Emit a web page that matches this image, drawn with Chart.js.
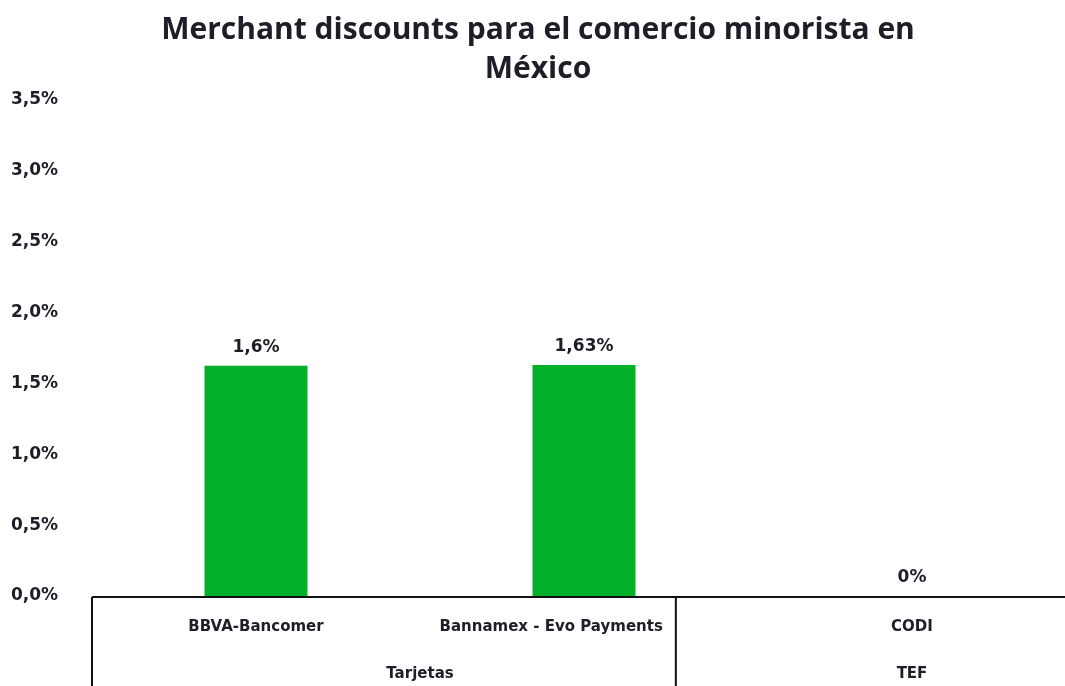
<!DOCTYPE html>
<html>
<head>
<meta charset="utf-8">
<script src="https://cdn.jsdelivr.net/npm/chart.js@4/dist/chart.umd.min.js"></script>
<style>
  html, body { margin: 0; padding: 0; background: #fff; }
  #wrap { width: 1065px; height: 686px; }
</style>
</head>
<body>
<div id="wrap"><canvas id="chart"></canvas></div>
<script>
const categories = ["BBVA-Bancomer", "Bannamex - Evo Payments", "CODI"];
const groups = ["Tarjetas", "Tarjetas", "TEF"];
const values = [1.625, 1.63, 0];
const valueLabels = ["1,6%", "1,63%", "0%"];
const yTicks = [0, 0.5, 1, 1.5, 2, 2.5, 3, 3.5];

const TITLE_FONT = "'Open Sans', Lato, sans-serif";
const FONT = "'DejaVu Sans', 'Open Sans', sans-serif";
const TEXT = "#1e1e28";

// the original plot runs a little past the right edge of the picture
const overflow = {
  id: "overflow",
  afterLayout(chart) {
    const x = chart.scales.x;
    x.right += 11;
    x.width += 11;
    x.configure();
  }
};

// value labels above bars + the two-level axis box
const extras = {
  id: "extras",
  afterDatasetsDraw(chart) {
    const ctx = chart.ctx;
    const meta = chart.getDatasetMeta(0);
    ctx.save();
    ctx.fillStyle = TEXT;
    ctx.font = "bold 17px " + FONT;
    ctx.textAlign = "center";
    ctx.textBaseline = "bottom";
    meta.data.forEach((bar, i) => {
      ctx.fillText(valueLabels[i], bar.x, bar.y - 10);
    });
    ctx.restore();
  },
  afterDraw(chart) {
    const ctx = chart.ctx;
    const x = chart.scales.x;
    const area = chart.chartArea;
    const bottom = chart.height;
    const div = x.getPixelForValue(1.28);
    ctx.save();
    ctx.strokeStyle = "#111";
    ctx.lineWidth = 2;
    ctx.beginPath();
    ctx.moveTo(area.left, area.bottom + 1);
    ctx.lineTo(chart.width, area.bottom + 1);
    ctx.moveTo(area.left, area.bottom + 1);
    ctx.lineTo(area.left, bottom);
    ctx.moveTo(div, area.bottom + 1);
    ctx.lineTo(div, bottom);
    ctx.stroke();

    ctx.fillStyle = TEXT;
    ctx.font = "bold 15px " + FONT;
    ctx.textBaseline = "middle";
    ctx.textAlign = "center";
    // category row: centred on the bar, kept inside its cell
    categories.forEach((c, i) => {
      let cx = x.getPixelForValue(i);
      const w = ctx.measureText(c).width;
      if (i < 2 && cx + w / 2 > div - 13) cx = div - 13 - w / 2;
      ctx.fillText(c, cx, 627);
    });
    // group row
    const seen = {};
    groups.forEach((g, i) => {
      (seen[g] = seen[g] || []).push(i);
    });
    Object.keys(seen).forEach(g => {
      const idx = seen[g];
      const c = (idx[0] + idx[idx.length - 1]) / 2;
      ctx.fillText(g, x.getPixelForValue(c), 674);
    });
    ctx.restore();
  }
};

new Chart(document.getElementById("chart"), {
  type: "bar",
  data: {
    labels: categories,
    datasets: [{
      data: values,
      backgroundColor: "rgb(0,176,40)",
      barPercentage: 0.314,
      categoryPercentage: 1
    }]
  },
  options: {
    responsive: true,
    maintainAspectRatio: false,
    animation: false,
    layout: { padding: { left: 11, right: 0, top: 0, bottom: 0 } },
    plugins: {
      legend: { display: false },
      tooltip: { enabled: false },
      title: {
        display: true,
        text: ["Merchant discounts para el comercio minorista en", "México"],
        color: TEXT,
        font: { family: TITLE_FONT, size: 30, weight: "bold", lineHeight: 1.3 },
        padding: { top: 11, bottom: 11 }
      }
    },
    scales: {
      x: {
        grid: { display: false },
        border: { display: false },
        ticks: { display: false },
        afterFit(scale) { scale.height = 90; }
      },
      y: {
        min: 0,
        max: 3.5,
        grid: { display: false },
        border: { display: false },
        afterBuildTicks(scale) { scale.ticks = yTicks.map(v => ({ value: v })); },
        ticks: {
          color: TEXT,
          font: { family: FONT, size: 17, weight: "bold" },
          crossAlign: "far",
          callback: v => v.toFixed(1).replace(".", ",") + "%"
        },
        afterFit(scale) { scale.width = 81; }
      }
    }
  },
  plugins: [overflow, extras]
});
</script>
</body>
</html>
